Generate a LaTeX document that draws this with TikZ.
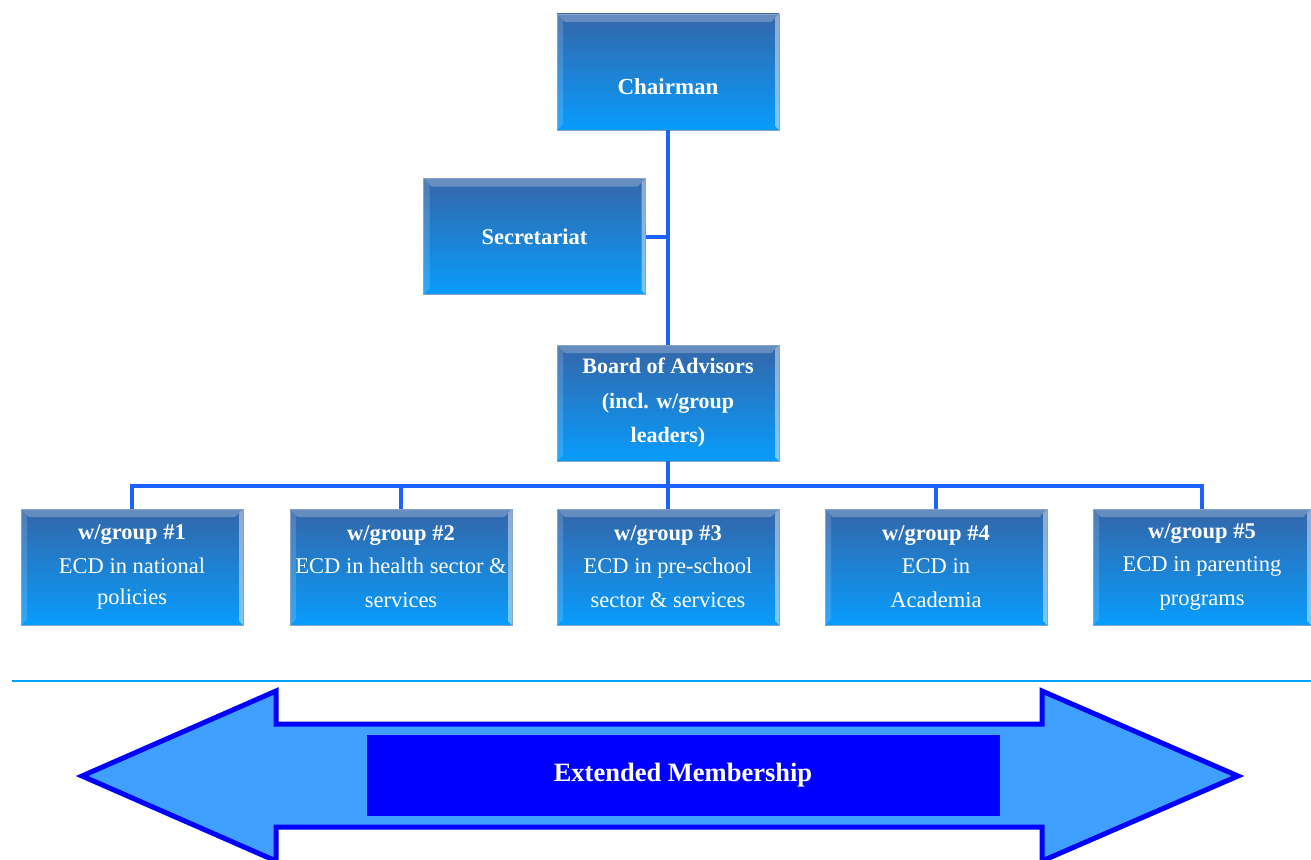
\documentclass[tikz,border=0pt]{standalone}
\usepackage{fontspec}
\setmainfont{Liberation Serif}
\definecolor{conncol}{RGB}{28,98,255}
\definecolor{boxtop}{RGB}{52,102,168}
\definecolor{boxbot}{RGB}{8,156,252}
\definecolor{sepcol}{RGB}{0,160,255}
\definecolor{arrfill}{RGB}{64,160,255}
\definecolor{arrline}{RGB}{0,0,255}
\begin{document}
\begin{tikzpicture}[x=1pt,y=-1pt,
  orgbox/.style={rectangle, minimum width=222pt, minimum height=116pt, inner sep=0pt,
    top color=boxtop, bottom color=boxbot, draw=boxtop!60!white, line width=0.8pt,
    text=white, align=center, font=\fontsize{22.5}{33}\selectfont,
    path picture={
      \fill[white,opacity=0.25] (path picture bounding box.north west) -- (path picture bounding box.north east) -- ([xshift=-8pt,yshift=-8pt]path picture bounding box.north east) -- ([xshift=8pt,yshift=-8pt]path picture bounding box.north west) -- cycle;
      \fill[white,opacity=0.45] (path picture bounding box.north east) -- (path picture bounding box.south east) -- ([xshift=-4pt,yshift=4pt]path picture bounding box.south east) -- ([xshift=-4pt,yshift=-4pt]path picture bounding box.north east) -- cycle;
      \fill[white,opacity=0.15] (path picture bounding box.north west) -- (path picture bounding box.south west) -- ([xshift=6pt,yshift=6pt]path picture bounding box.south west) -- ([xshift=6pt,yshift=-6pt]path picture bounding box.north west) -- cycle;
    }},
  conn/.style={draw=conncol, line width=4pt}
]
\useasboundingbox (0,0) rectangle (1311,859);

% top boxes
\node[orgbox] (chair) at (668,72) {};
\node[text=white, font=\bfseries\fontsize{23}{33}\selectfont] (chairtext) at (668,87) {Chairman};
\node[orgbox, font=\bfseries\fontsize{22.5}{33}\selectfont] (sec) at (534.5,236.5) {Secretariat};
\node[orgbox, font=\bfseries\fontsize{22}{34.5}\selectfont] (board) at (668,403) {Board of Advisors\\(incl. w/group\\leaders)};

% working groups
\node[orgbox] (g1) at (132,567) {{\bfseries w/group \#1}\\[1pt]ECD in national\\[-2pt]policies};
\node[orgbox] (g2) at (401,567) {{\bfseries w/group \#2}\\ECD in health sector \&\\[1pt]services};
\node[orgbox] (g3) at (668,567) {{\bfseries w/group \#3}\\ECD in pre-school\\[1pt]sector \& services};
\node[orgbox] (g4) at (936,567) {{\bfseries w/group \#4}\\ECD in\\[1pt]Academia};
\node[orgbox, minimum width=218pt] (g5) at (1202,567) {{\bfseries w/group \#5}\\ECD in parenting\\[1pt]programs};

% connectors
\coordinate (bus) at (0,486);
\draw[conn] (chair.south) -- (board.north);
\draw[conn] (sec.east) -- (sec.east -| chair.south);
\draw[conn] (board.south) -- (board.south |- bus);
\draw[conn, line join=miter] (g1.north) -- (g1.north |- bus) -- (g5.north |- bus) -- (g5.north);
\draw[conn] (g2.north) -- (g2.north |- bus);
\draw[conn] (g3.north) -- (g3.north |- bus);
\draw[conn] (g4.north) -- (g4.north |- bus);

% separator
\coordinate (sepL) at (12,681);
\coordinate (sepR) at (1311,681);
\draw[sepcol, line width=1.6pt] (sepL) -- (sepR);

% double arrow
\coordinate (tipL) at (82,776);
\coordinate (tipR) at (1238,776);
\draw[arrline, fill=arrfill, line width=5pt, line join=miter, miter limit=10]
  (tipL) -- (276,691) -- (276,724) -- (1042,724) -- (1042,691) -- (tipR)
  -- (1042,861) -- (1042,827) -- (276,827) -- (276,861) -- cycle;
\node[fill=arrline, draw=arrfill, line width=0.8pt, minimum width=634pt, minimum height=82pt, inner sep=0pt,
  text=white, font=\bfseries\fontsize{26.5}{30}\selectfont] (ext) at (683,775.5) {Extended Membership};
\end{tikzpicture}
\end{document}
